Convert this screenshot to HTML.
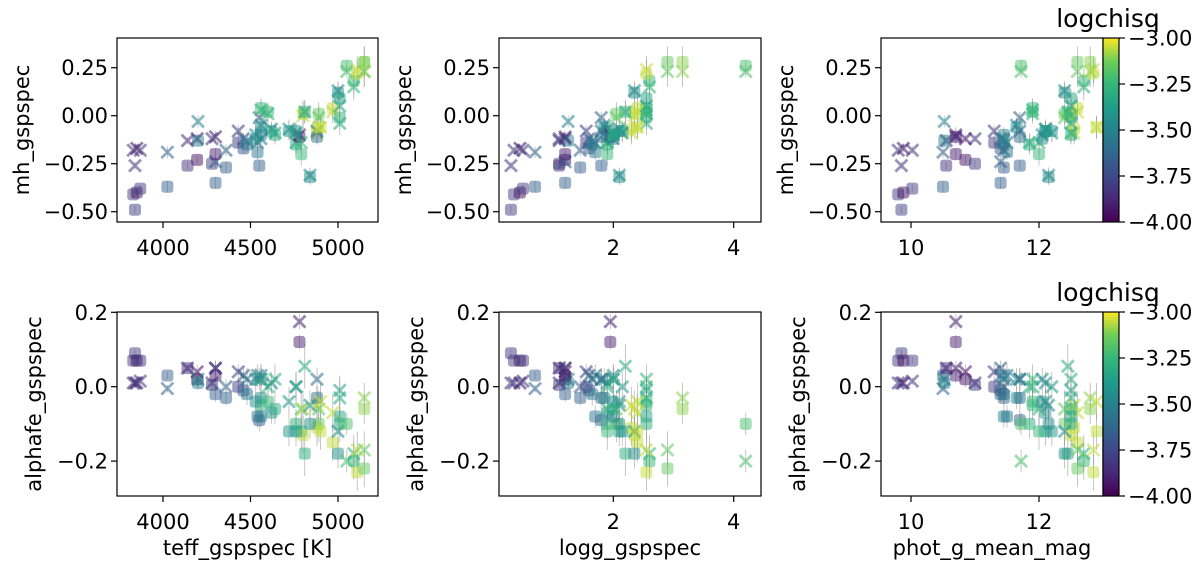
<!DOCTYPE html>
<html><head><meta charset="utf-8">
<style>
body{margin:0;background:#fff;}
svg{display:block;font-family:"DejaVu Sans","Liberation Sans",sans-serif;}
</style></head>
<body>
<svg id="fig" width="1200" height="569" viewBox="0 0 1200 569" xmlns="http://www.w3.org/2000/svg">
<defs>
<linearGradient id="vir" x1="0" y1="1" x2="0" y2="0">
<stop offset="0" stop-color="#440154"/><stop offset="0.125" stop-color="#482878"/><stop offset="0.25" stop-color="#3e4989"/><stop offset="0.375" stop-color="#31688e"/><stop offset="0.5" stop-color="#26828e"/><stop offset="0.625" stop-color="#1f9e89"/><stop offset="0.75" stop-color="#35b779"/><stop offset="0.875" stop-color="#6ece58"/><stop offset="1" stop-color="#fde725"/>
</linearGradient>
</defs>
</svg>
<script>
const teff=[3830,3840,3850,3870,4025,4140,4195,4200,4280,4300,4300,4360,4430,4460,4480,4540,4550,4560,4560,4600,4620,4720,4760,4780,4790,4800,4810,4880,4880,4890,4970,5000,5010,5010,5050,5090,5110,5150,5150,4840,4560,4530,4640,4760,4900];
const logg=[0.35,0.30,0.45,0.50,0.70,1.10,1.20,1.25,1.10,1.20,1.20,1.45,1.55,1.60,1.65,1.70,1.80,1.85,2.55,2.55,1.90,2.10,1.90,1.95,1.90,2.35,2.20,2.30,1.80,2.05,2.40,2.35,2.55,2.55,4.20,2.60,2.55,2.90,3.15,2.10,2.00,2.00,2.00,2.15,2.40];
const gmag=[9.80,9.85,9.88,10.02,10.50,10.55,10.85,10.52,11.00,11.40,10.70,11.45,11.30,11.40,11.45,11.50,11.70,11.65,11.90,11.90,12.10,12.10,11.85,10.70,12.00,12.50,12.45,12.55,11.70,12.40,12.60,12.40,12.50,12.50,11.72,12.70,12.85,12.60,12.80,12.15,11.45,12.05,12.50,12.20,12.90];
const logchisq=[-3.8,-3.8,-3.95,-3.8,-3.65,-3.85,-3.95,-3.5,-3.8,-3.65,-3.9,-3.65,-3.8,-3.7,-3.55,-3.55,-3.65,-3.45,-3.25,-3.25,-3.45,-3.4,-3.3,-3.9,-3.25,-3.05,-3.3,-3.05,-3.6,-3.15,-3.05,-3.45,-3.35,-3.3,-3.2,-3.25,-3.05,-3.15,-3.1,-3.45,-3.5,-3.45,-3.3,-3.4,-3.05];
const mhSquare=[-0.41,-0.49,-0.40,-0.38,-0.37,-0.26,-0.23,-0.13,-0.25,-0.35,-0.20,-0.27,-0.14,-0.17,-0.15,-0.19,-0.26,-0.06,0.04,0.02,-0.08,-0.08,-0.15,-0.11,-0.20,0.01,0.02,-0.07,-0.11,0.01,0.04,0.12,0.09,-0.01,0.26,0.18,0.22,0.28,0.28,-0.32,-0.10,-0.12,-0.10,-0.08,-0.06];
const mhCross=[-0.18,-0.26,-0.17,-0.18,-0.19,-0.13,-0.12,-0.03,-0.12,-0.24,-0.11,-0.18,-0.08,-0.12,-0.13,-0.14,-0.01,-0.05,0.03,0.01,-0.07,-0.07,-0.14,-0.10,-0.14,0.00,0.02,-0.09,-0.08,-0.01,0.02,0.13,0.05,-0.04,0.23,0.15,0.24,0.23,0.23,-0.31,-0.12,-0.10,-0.09,-0.09,-0.06];
const alphaSquare=[0.07,0.09,0.07,0.07,0.03,0.05,0.02,0.01,0.005,-0.02,0.03,-0.03,0.00,-0.01,-0.02,-0.08,-0.09,-0.03,-0.05,-0.04,-0.07,-0.12,-0.10,0.12,-0.12,-0.13,-0.18,-0.11,-0.03,-0.10,-0.15,-0.18,-0.08,-0.10,-0.10,-0.20,-0.23,-0.22,-0.06,-0.10,-0.08,-0.04,-0.06,-0.12,-0.12];
const alphaCross=[0.01,0.01,0.01,0.015,-0.005,0.05,0.04,0.02,0.01,0.05,0.05,0.00,0.04,0.03,0.02,0.03,0.02,0.02,0.02,0.00,0.01,-0.04,0.00,0.175,-0.06,-0.06,0.055,-0.05,0.02,-0.06,-0.07,-0.12,-0.01,-0.03,-0.20,-0.18,-0.17,-0.17,-0.03,-0.05,0.03,0.02,0.02,0.00,-0.04];
const errMh=[0.02,0.02,0.02,0.02,0.03,0.02,0.02,0.03,0.02,0.03,0.03,0.03,0.03,0.03,0.04,0.04,0.03,0.04,0.05,0.05,0.04,0.05,0.05,0.04,0.06,0.07,0.06,0.06,0.04,0.06,0.06,0.05,0.05,0.06,0.03,0.07,0.07,0.08,0.08,0.04,0.04,0.04,0.05,0.05,0.06];
const errAlpha=[0.01,0.01,0.01,0.01,0.01,0.01,0.02,0.02,0.01,0.02,0.02,0.02,0.02,0.02,0.03,0.03,0.03,0.03,0.04,0.03,0.03,0.04,0.04,0.02,0.05,0.05,0.06,0.05,0.03,0.05,0.05,0.04,0.04,0.05,0.03,0.05,0.05,0.05,0.04,0.04,0.03,0.03,0.04,0.04,0.05];
const teffTicks=[4000,4500,5000];
const loggTicks=[2,4];
const gmagTicks=[10,12];
const mhTicks=[0.25,0,-0.25,-0.5];
const mhTickLabels=["0.25","0.00","\u22120.25","\u22120.50"];
const alphaTicks=[0.2,0,-0.2];
const alphaTickLabels=["0.2","0.0","\u22120.2"];
const cbTicks=[-3,-3.25,-3.5,-3.75,-4];
const cbTickLabels=["\u22123.00","\u22123.25","\u22123.50","\u22123.75","\u22124.00"];

const NS="http://www.w3.org/2000/svg";
const svg=document.getElementById('fig');
function mk(tag,attrs,parent){const e=document.createElementNS(NS,tag);for(const k in attrs)e.setAttribute(k,attrs[k]);(parent||svg).appendChild(e);return e;}
const vstops=[[68,1,84],[72,40,120],[62,73,137],[49,104,142],[38,130,142],[31,158,137],[53,183,121],[110,206,88],[253,231,37]];
function viridis(v){let t=Math.max(0,Math.min(1,(v+4)));const s=t*8,i=Math.min(7,Math.floor(s)),f=s-i;const a=vstops[i],b=vstops[i+1];return `rgb(${Math.round(a[0]+(b[0]-a[0])*f)},${Math.round(a[1]+(b[1]-a[1])*f)},${Math.round(a[2]+(b[2]-a[2])*f)})`;}
function lin(d0,d1,r0,r1){return v=>r0+(v-d0)*(r1-r0)/(d1-d0);}
const FS=21;

const xCols=[
 {vals:teff,sc:lin(4000,5000,163,338),ticks:teffTicks,labels:teffTicks.map(String),L:117,R:378,title:"teff_gspspec [K]",key:'teff'},
 {vals:logg,sc:lin(2,4,613.3,733.7),ticks:loggTicks,labels:loggTicks.map(String),L:499,R:761,title:"logg_gspspec",key:'logg'},
 {vals:gmag,sc:lin(10,12,911,1039),ticks:gmagTicks,labels:gmagTicks.map(String),L:881,R:1103,title:"phot_g_mean_mag",key:'gmag'}];
const rows=[
 {sq:mhSquare,cr:mhCross,err:errMh,sc:lin(0,0.25,115.7,67.7),ticks:mhTicks,labels:mhTickLabels,T:38,B:222,title:"mh_gspspec",key:'mh',lab:96},
 {sq:alphaSquare,cr:alphaCross,err:errAlpha,sc:lin(0,0.2,386.7,312.3),ticks:alphaTicks,labels:alphaTickLabels,T:312,B:496,title:"alphafe_gspspec",key:'alpha',lab:84}];

rows.forEach((row,ri)=>{
 xCols.forEach((col,ci)=>{
  const g=mk('g',{});
  
  
  const cp='clip'+ri+ci;
  const c=mk('clipPath',{id:cp},g);mk('rect',{x:col.L,y:row.T,width:col.R-col.L,height:row.B-row.T},c);
  const marks=mk('g',{'clip-path':`url(#${cp})`},g);
  
  
  for(let i=0;i<col.vals.length;i++){
   const x=col.sc(col.vals[i]);const e=row.err[i];
   [row.sq[i],row.cr[i]].forEach(v=>{
    const l=mk('line',{x1:x,x2:x,y1:row.sc(v-e),y2:row.sc(v+e),stroke:'#888','stroke-width':0.8,'stroke-opacity':0.6},marks);
    
    
   });
  }
  for(let i=0;i<col.vals.length;i++){
   const x=col.sc(col.vals[i]);const col_=viridis(logchisq[i]);
   const y1=row.sc(row.sq[i]);
   const r=mk('rect',{x:x-6,y:y1-6,width:12,height:12,rx:3,fill:col_,'fill-opacity':0.5},marks);
   
   
   const y2=row.sc(row.cr[i]);
   const p=mk('path',{d:`M${x-6},${y2-6}L${x+6},${y2+6}M${x-6},${y2+6}L${x+6},${y2-6}`,stroke:col_,'stroke-width':2.8,'stroke-opacity':0.55,fill:'none'},marks);
   
   
  }
  const fr=mk('rect',{x:col.L,y:row.T,width:col.R-col.L,height:row.B-row.T,fill:'none',stroke:'#000','stroke-width':1.2},g);
  
  
  col.ticks.forEach((t,k)=>{
   const x=col.sc(t);
   mk('line',{x1:x,x2:x,y1:row.B,y2:row.B+6,stroke:'#000','stroke-width':1.2},g);
   const tx=mk('text',{x:x,y:row.B+33,'font-size':FS,'text-anchor':'middle'},g);
   tx.textContent=col.labels[k];
   
   
  });
  row.ticks.forEach((t,k)=>{
   const y=row.sc(t);
   mk('line',{x1:col.L-6,x2:col.L,y1:y,y2:y,stroke:'#000','stroke-width':1.2},g);
   const tx=mk('text',{x:col.L-9,y:y+7.5,'font-size':FS,'text-anchor':'end'},g);
   tx.textContent=row.labels[k];
   
   
  });
  const yl=mk('text',{x:0,y:0,'font-size':FS,'text-anchor':'middle',transform:`translate(${col.L-row.lab+8},${(row.T+row.B)/2}) rotate(-90)`},g);
  yl.textContent=row.title;
  
  
  if(ri===1){
   const xl=mk('text',{x:(col.L+col.R)/2,y:555,'font-size':FS,'text-anchor':'middle'},g);
   xl.textContent=col.title;
   
   
  }
 });
 const cg=mk('g',{});
 
 
 const cbs=lin(-4,-3,row.B,row.T);
 mk('rect',{x:1103,y:row.T,width:16,height:row.B-row.T,fill:'url(#vir)',stroke:'#000','stroke-width':1.2},cg);
 cbTicks.forEach((t,k)=>{
  const y=cbs(t);
  mk('line',{x1:1119,x2:1125,y1:y,y2:y,stroke:'#000','stroke-width':1.2},cg);
  const tx=mk('text',{x:1128,y:y+7.5,'font-size':FS},cg);
  tx.textContent=cbTickLabels[k];
  
  
 });
 const ct=mk('text',{x:1108,y:row.T-11,'font-size':25,'text-anchor':'middle'},cg);
 ct.textContent='logchisq';
 
 
});
</script>
</body></html>
